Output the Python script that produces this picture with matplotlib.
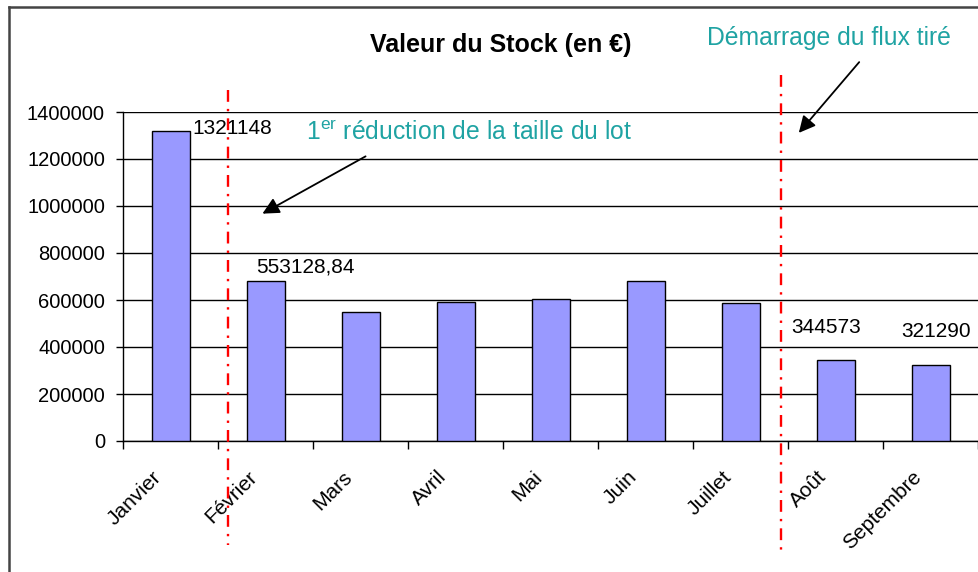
import matplotlib
matplotlib.use("Agg")
import matplotlib.pyplot as plt
from matplotlib.lines import Line2D
import matplotlib.transforms as mtransforms

plt.rcParams['font.family'] = ['Liberation Sans', 'DejaVu Sans']
plt.rcParams['mathtext.fontset'] = 'custom'
plt.rcParams['mathtext.rm'] = 'Liberation Sans'

months = ["Janvier", "Février", "Mars", "Avril", "Mai", "Juin", "Juillet", "Août", "Septembre"]
values = [1321148, 680000, 549000, 591000, 604000, 681000, 587000, 344573, 321290]
label_idx = [0, 1, 7, 8]
label_text = ["1321148", "553128,84", "344573", "321290"]
yticks = [0, 200000, 400000, 600000, 800000, 1000000, 1200000, 1400000]
title = "Valeur du Stock (en €)"
note1 = "1$^{\\rm er}$ réduction de la taille du lot"
note2 = "Démarrage du flux tiré"

W, H = 979, 572
fig = plt.figure(figsize=(W / 100, H / 100), dpi=100)
ax = fig.add_axes([123 / W, 1 - 441 / H, (978 - 123) / W, (441 - 112) / H])

x = list(range(len(months)))
ax.bar(x, values, width=0.4, color="#9999ff", edgecolor="black", linewidth=1, zorder=3)
ax.set_xlim(-0.5, len(months) - 0.5)
ax.set_ylim(0, 1400000)
ax.set_yticks(yticks)
ax.set_yticklabels([str(v) for v in yticks], fontsize=14.5)
ax.yaxis.grid(True, color="black", linewidth=1, zorder=0)
ax.tick_params(axis='y', length=5, width=1, pad=8, colors='black')

# category boundary ticks, labels at centers
ax.set_xticks([i - 0.5 for i in range(len(months) + 1)])
ax.set_xticklabels([])
ax.tick_params(axis='x', which='major', length=6, width=1)
ax.set_xticks(x, minor=True)
ax.set_xticklabels(months, minor=True, rotation=45, ha='right', fontsize=15)
ax.tick_params(axis='x', which='minor', length=0, pad=19)
off = mtransforms.ScaledTranslation(-5 / 100, 0, fig.dpi_scale_trans)
for lab in ax.get_xticklabels(minor=True):
    lab.set_transform(lab.get_transform() + off)

for s in ['top', 'right']:
    ax.spines[s].set_visible(False)
for s in ['left', 'bottom']:
    ax.spines[s].set_linewidth(1)

# data labels
offsets = [(22, 2, 'left'), (40, 14, 'center'), (-9, 33, 'center'), (6, 34, 'center')]
for i, t, (dx, dy, ha) in zip(label_idx, label_text, offsets):
    ax.annotate(t, xy=(i, values[i]), xytext=(dx, dy), textcoords='offset pixels',
                ha=ha, va='center', fontsize=15, zorder=5)

# red dash-dot vertical markers
def fx(px):
    return px / W
def fy(py):
    return 1 - py / H

for xp, y0, y1 in [(228, 90, 545), (781, 75, 555)]:
    fig.add_artist(Line2D([fx(xp), fx(xp)], [fy(y0), fy(y1)], transform=fig.transFigure,
                          color="red", linewidth=1.7, linestyle=(0, (5, 3, 1, 3))))

# title and notes
fig.text(fx(501), fy(45), title, ha='center', va='center', fontsize=18, fontweight='bold')
teal = "#1fa3a3"
fig.text(fx(306), fy(133), note1, ha='left', va='center', fontsize=17.8, color=teal)
fig.text(fx(707), fy(38), note2, ha='left', va='center', fontsize=17.8, color=teal)

for (x0, y0), (x1, y1) in [((368, 155), (260, 215)), ((861, 60), (797, 135))]:
    fig.add_artist(matplotlib.patches.FancyArrowPatch(
        (fx(x0), fy(y0)), (fx(x1), fy(y1)), transform=fig.transFigure,
        arrowstyle='-|>,head_length=10,head_width=5', color='black', linewidth=1.3,
        mutation_scale=1))

# outer frame (top and left visible)
fig.add_artist(Line2D([fx(9), fx(979)], [fy(7), fy(7)], transform=fig.transFigure, color="#444444", linewidth=1.8))
fig.add_artist(Line2D([fx(9), fx(9)], [fy(7), fy(572)], transform=fig.transFigure, color="#444444", linewidth=1.8))

fig.savefig("out.png", dpi=100)
